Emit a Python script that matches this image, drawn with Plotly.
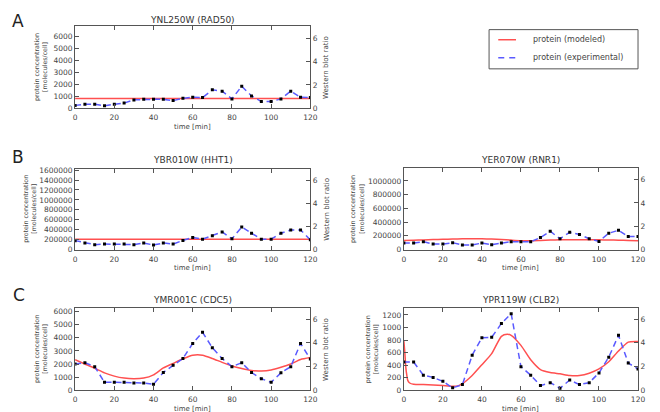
import plotly.graph_objects as go

W, H = 660, 412

# ---------------- data ----------------
time_min = [0, 5, 10, 15, 20, 25, 30, 35, 40, 45, 50, 55, 60, 65, 70, 75, 80, 85, 90, 95, 100, 105, 110, 115, 120]

titles = ["YNL250W (RAD50)", "YBR010W (HHT1)", "YER070W (RNR1)", "YMR001C (CDC5)", "YPR119W (CLB2)"]

# experimental protein (left-axis units)
exp_rad50 = [250, 350, 350, 220, 350, 440, 710, 760, 760, 760, 650, 840, 930, 900, 1550, 1440, 790, 1850, 1040, 570, 570, 790, 1440, 930, 900]
exp_hht1 = [180000, 132000, 99000, 112000, 112000, 112000, 99000, 132000, 92000, 132000, 112000, 184000, 244000, 210000, 276000, 355000, 217000, 454000, 329000, 210000, 210000, 329000, 395000, 395000, 197000]
exp_rnr1 = [95000, 95000, 114000, 81000, 81000, 100000, 67000, 67000, 95000, 71000, 95000, 114000, 114000, 114000, 176000, 267000, 157000, 252000, 219000, 157000, 119000, 238000, 281000, 190000, 190000]
exp_cdc5 = [2000, 2100, 1800, 600, 600, 600, 550, 550, 450, 1350, 1900, 2425, 3575, 4425, 3250, 2425, 1800, 2100, 1350, 875, 600, 1325, 1800, 3575, 2375]
exp_clb2 = [450, 450, 240, 204, 141, 37, 89, 558, 835, 845, 1064, 1221, 376, 240, 73, 120, 31, 162, 89, 120, 276, 527, 876, 433, 339]

# modeled protein
mod_rad50 = [820] * 25
mod_hht1 = [210000] * 25
mod_rnr1 = [133000, 137000, 141000, 146000, 150000, 154000, 157000, 157000, 156000, 153000, 147000, 138000, 130000, 129000, 133000, 138000, 142000, 143000, 143000, 143000, 142000, 140000, 137000, 133000, 130000]
mod_cdc5 = [2325, 2000, 1675, 1325, 1075, 925, 875, 925, 1175, 1700, 2050, 2400, 2675, 2675, 2425, 2125, 1850, 1650, 1500, 1475, 1550, 1750, 2000, 2350, 2500]
time_clb2_mod = [0, 0.5, 1, 1.5, 2, 3, 5, 10, 15, 20, 25, 28, 30, 35, 40, 45, 50, 53, 55, 60, 65, 70, 75, 80, 85, 90, 95, 100, 105, 110, 115, 120]
mod_clb2 = [783, 600, 365, 240, 157, 115, 94, 89, 83, 73, 63, 73, 104, 235, 407, 584, 860, 892, 876, 715, 485, 329, 282, 261, 235, 235, 271, 339, 454, 626, 767, 777]

exp_series = [exp_rad50, exp_hht1, exp_rnr1, exp_cdc5, exp_clb2]
mod_series = [(time_min, mod_rad50), (time_min, mod_hht1), (time_min, mod_rnr1),
              (time_min, mod_cdc5), (time_clb2_mod, mod_clb2)]

left_ticks = [
    [0, 1000, 2000, 3000, 4000, 5000, 6000],
    [0, 200000, 400000, 600000, 800000, 1000000, 1200000, 1400000, 1600000],
    [0, 200000, 400000, 600000, 800000, 1000000],
    [0, 1000, 2000, 3000, 4000, 5000, 6000],
    [0, 200, 400, 600, 800, 1000, 1200],
]
left_max = [6850, 1630000, 1190000, 6250, 1305]
right_max = [7.0, 7.0, 7.0, 6.9, 6.9]
right_ticks = [0, 2, 4, 6]
x_ticks = [0, 20, 40, 60, 80, 100, 120]

legend_labels = ["protein (modeled)", "protein (experimental)"]

# ---------------- layout geometry (pixels) ----------------
boxes = [  # x0, x1, ytop, ybot
    (66, 304.5, 15.7, 99.3),
    (66, 304.5, 160.7, 243.3),
    (399.3, 636.7, 160, 243.3),
    (66, 304.5, 303.3, 386.7),
    (399.3, 636.7, 303.3, 386.7),
]
title_y = [9.5, 151.7, 151.7, 295, 295]
xlabel_y = [118.5, 262, 262, 406, 406]
left_title_x = [31, 19, 352, 31, 366]
right_title_x = [321, 321, 655, 321, 655]

FONT = "DejaVu Sans"
TXT = "#444444"
FRAME = "#555555"
RED = "#ff5050"
BLUE = "#5a5aff"

fig = go.Figure()
layout = dict(
    width=W, height=H, margin=dict(l=0, r=0, t=0, b=0),
    paper_bgcolor="white", plot_bgcolor="white",
    font=dict(family=FONT, size=7.5, color=TXT),
    showlegend=False,
)
annotations = []
shapes = []

def px(xv):
    return xv / W

def py(yv):
    return 1 - yv / H

for i in range(5):
    xid = i + 1
    yl = 2 * i + 1
    yr = 2 * i + 2
    xname = "xaxis" if xid == 1 else f"xaxis{xid}"
    ylname = "yaxis" if yl == 1 else f"yaxis{yl}"
    yrname = f"yaxis{yr}"
    xref = "x" if xid == 1 else f"x{xid}"
    ylref = "y" if yl == 1 else f"y{yl}"
    yrref = f"y{yr}"
    x0, x1, yt, yb = boxes[i]

    layout[xname] = dict(
        domain=[px(x0), px(x1)], anchor=ylref, range=[0, 120],
        tickvals=x_ticks, ticks="inside", ticklen=4, tickcolor=FRAME,
        showline=True, linecolor=FRAME, linewidth=1, mirror="ticks",
        showgrid=False, zeroline=False, tickfont=dict(size=7.5, color=TXT),
        ticklabelstandoff=2,
    )
    layout[ylname] = dict(
        domain=[py(yb), py(yt)], anchor=xref, range=[0, left_max[i]],
        tickvals=left_ticks[i], ticktext=[str(v) for v in left_ticks[i]],
        ticks="inside", ticklen=4, tickcolor=FRAME,
        showline=True, linecolor=FRAME, linewidth=1, mirror=True,
        showgrid=False, zeroline=False, tickfont=dict(size=7.5, color=TXT),
    )
    layout[yrname] = dict(
        overlaying=ylref, side="right", anchor=xref, range=[0, right_max[i]],
        tickvals=right_ticks, ticks="inside", ticklen=4, tickcolor=FRAME,
        showline=True, linecolor=FRAME, linewidth=1,
        showgrid=False, zeroline=False, tickfont=dict(size=7.5, color=TXT),
    )

    mt, mv = mod_series[i]
    fig.add_trace(go.Scatter(
        x=mt, y=mv, xaxis=xref, yaxis=ylref, mode="lines",
        line=dict(color=RED, width=1.5, shape="spline", smoothing=0.6),
        name=legend_labels[0], hoverinfo="skip",
    ))
    fig.add_trace(go.Scatter(
        x=time_min, y=exp_series[i], xaxis=xref, yaxis=ylref, mode="lines+markers",
        line=dict(color=BLUE, width=1.5, dash="6px,4px"),
        marker=dict(symbol="square", size=3, color="black"),
        name=legend_labels[1],
    ))
    # empty trace so the right-hand (Western blot ratio) axis is drawn
    fig.add_trace(go.Scatter(
        x=[None], y=[None], xaxis=xref, yaxis=yrref, mode="lines",
        hoverinfo="skip", showlegend=False,
    ))

    cx = (x0 + x1) / 2
    cy = (yt + yb) / 2
    annotations.append(dict(text=titles[i], x=px(cx), y=py(title_y[i]), xref="paper", yref="paper",
                            showarrow=False, xanchor="center", yanchor="middle",
                            font=dict(size=9, color="#333333")))
    annotations.append(dict(text="time [min]", x=px(cx), y=py(xlabel_y[i]), xref="paper", yref="paper",
                            showarrow=False, xanchor="center", yanchor="middle",
                            font=dict(size=7, color=TXT)))
    annotations.append(dict(text="protein concentration<br>[molecules/cell]", x=px(left_title_x[i]), y=py(cy),
                            xref="paper", yref="paper", showarrow=False, textangle=-90,
                            xanchor="center", yanchor="middle",
                            font=dict(size=6.3, color=TXT)))
    annotations.append(dict(text="Western blot ratio", x=px(right_title_x[i]), y=py(cy),
                            xref="paper", yref="paper", showarrow=False, textangle=-90,
                            xanchor="center", yanchor="middle",
                            font=dict(size=7, color=TXT)))

for letter, lx, ly in [("A", 8, 10), ("B", 8, 149), ("C", 9, 290)]:
    annotations.append(dict(text=letter, x=px(lx), y=py(ly), xref="paper", yref="paper",
                            showarrow=False, xanchor="center", yanchor="middle",
                            font=dict(size=17, color="#222222")))

# ---------------- legend box (drawn as decoration) ----------------
shapes.append(dict(type="rect", xref="paper", yref="paper",
                   x0=px(485.7), x1=px(636.7), y0=py(59), y1=py(19),
                   line=dict(color=FRAME, width=1), fillcolor="white"))
shapes.append(dict(type="line", xref="paper", yref="paper",
                   x0=px(495), x1=px(513), y0=py(29.3), y1=py(29.3),
                   line=dict(color=RED, width=1.5)))
shapes.append(dict(type="line", xref="paper", yref="paper",
                   x0=px(495), x1=px(513), y0=py(47.7), y1=py(47.7),
                   line=dict(color=BLUE, width=1.5, dash="6px,5px")))
for lab, ly in zip(legend_labels, [29.3, 47.7]):
    annotations.append(dict(text=lab, x=px(528), y=py(ly), xref="paper", yref="paper",
                            showarrow=False, xanchor="left", yanchor="middle",
                            font=dict(size=8, color=TXT)))

layout["annotations"] = annotations
layout["shapes"] = shapes
fig.update_layout(**layout)
fig.write_html("out.html")
